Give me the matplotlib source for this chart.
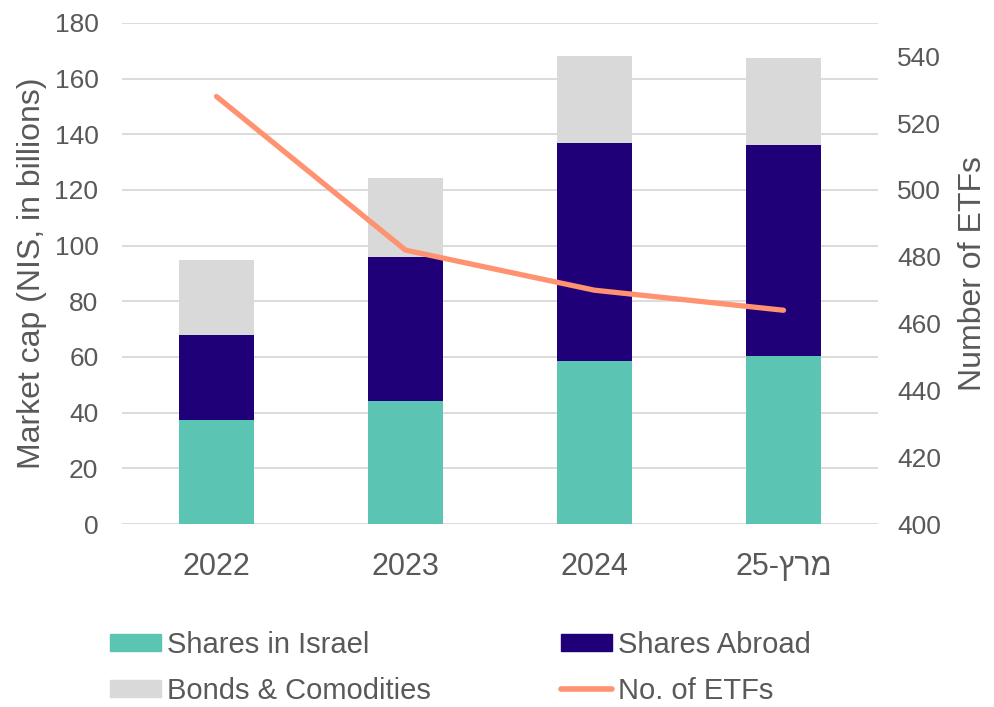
import matplotlib
matplotlib.use("Agg")
import matplotlib.pyplot as plt
import numpy as np
from matplotlib.patches import Patch
from matplotlib.lines import Line2D

plt.rcParams["font.family"] = ["Liberation Sans", "DejaVu Sans"]

# market cap by asset class (NIS billions) and number of ETFs
periods = ["2022", "2023", "2024", "25-ץרמ"]
shares_israel = [37.5, 44.2, 58.6, 60.4]
shares_abroad = [30.3, 51.6, 78.4, 75.6]
bonds_commod = [27.2, 28.6, 31.0, 31.6]
n_etfs = [528, 482, 470, 464]

TXT = "#595959"
GRID = "#d9d9d9"
C_IL, C_AB, C_BD, C_LN = "#5bc4b3", "#1f0079", "#d9d9d9", "#ff9270"

fig = plt.figure(figsize=(9.94, 7.07), dpi=100)
ax = fig.add_axes([122 / 994, 183 / 707, 756 / 994, 501 / 707])
x = np.arange(len(periods))
w = 0.40

b1 = np.array(shares_israel)
b2 = b1 + np.array(shares_abroad)
ax.bar(x, shares_israel, w, color=C_IL, zorder=2)
ax.bar(x, shares_abroad, w, bottom=b1, color=C_AB, zorder=2)
ax.bar(x, bonds_commod, w, bottom=b2, color=C_BD, zorder=2)

ax.set_xlim(-0.5, len(periods) - 0.5)
ax.set_ylim(0, 180)
ax.set_yticks(range(0, 181, 20))
ax.set_xticks(x)
ax.set_xticklabels(periods, fontsize=22, color=TXT)
ax.tick_params(axis="y", labelsize=19, labelcolor=TXT, length=0, pad=17)
ax.tick_params(axis="x", length=0, pad=20)
ax.grid(axis="y", color=GRID, lw=1.3, zorder=0)
for s in ax.spines.values():
    s.set_visible(False)
ax.set_ylabel("Market cap (NIS, in billions)", fontsize=23, color=TXT, labelpad=5)

ax2 = ax.twinx()
ax2.plot(x, n_etfs, color=C_LN, lw=3.8, solid_capstyle="round", solid_joinstyle="round", zorder=3)
ax2.set_ylim(400, 550)
ax2.set_yticks(range(400, 541, 20))
ax2.tick_params(axis="y", labelsize=19, labelcolor=TXT, length=0, pad=14)
for s in ax2.spines.values():
    s.set_visible(False)
ax2.set_ylabel("Number of ETFs", fontsize=23, color=TXT, labelpad=12)

handles = [
    Patch(color=C_IL, label="Shares in Israel"),
    Patch(color=C_BD, label="Bonds & Comodities"),
    Patch(color=C_AB, label="Shares Abroad"),
    Line2D([], [], color=C_LN, lw=4, solid_capstyle="round", label="No. of ETFs"),
]
leg = fig.legend(handles=handles, ncol=2, loc="lower left", bbox_to_anchor=(84 / 994, -0.034),
                 frameon=False, fontsize=21, handlelength=1.75, handleheight=0.5,
                 handletextpad=0.2, columnspacing=4.45, labelspacing=0.62, labelcolor=TXT)

fig.savefig("out.png", dpi=100)
